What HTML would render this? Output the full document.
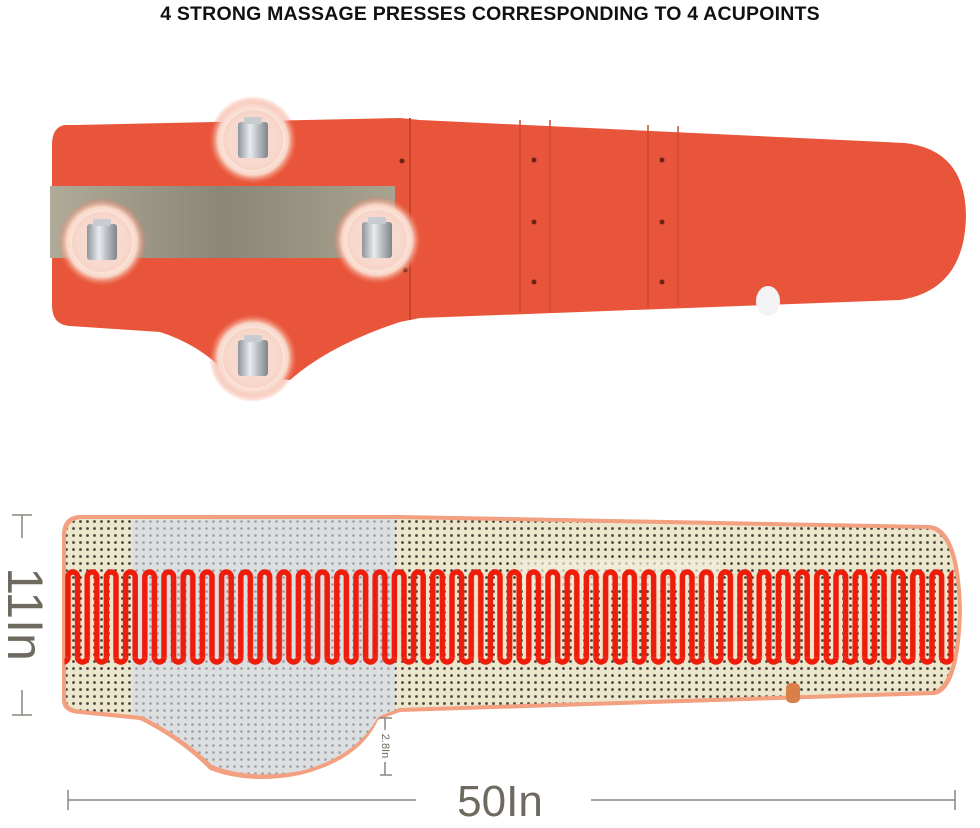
<!DOCTYPE html>
<html><head><meta charset="utf-8"><style>
html,body{margin:0;padding:0;background:#fff;width:980px;height:828px;overflow:hidden}
.t{position:absolute;top:3px;left:0;width:980px;text-align:center;font:bold 19.5px "Liberation Sans",sans-serif;color:#111;letter-spacing:0.2px}
</style></head><body>
<div class="t">4 STRONG MASSAGE PRESSES CORRESPONDING TO 4 ACUPOINTS</div>
<svg width="980" height="828" style="position:absolute;left:0;top:0" xmlns="http://www.w3.org/2000/svg">
<defs>
<pattern id="dots" width="7" height="7" patternUnits="userSpaceOnUse"><circle cx="3.5" cy="3.5" r="1.4" fill="#2a2a22"/></pattern>
<pattern id="gdots" width="7" height="7" patternUnits="userSpaceOnUse"><circle cx="3.5" cy="3.5" r="1.3" fill="#9a9ea2"/></pattern>
<pattern id="serp" x="63.2" y="0" width="19.2" height="828" patternUnits="userSpaceOnUse">
<path d="M4.8 657.2 L4.8 576.8 A4.8 4.8 0 0 1 14.4 576.8 L14.4 657.2" fill="none" stroke="#ee1c0a" stroke-width="5.5"/>
<path d="M-4.8 657.2 A4.8 4.8 0 0 0 4.8 657.2 M14.4 657.2 A4.8 4.8 0 0 0 24 657.2" fill="none" stroke="#ee1c0a" stroke-width="5.5"/>
</pattern>
<radialGradient id="glow"><stop offset="0.55" stop-color="#fff4ee"/><stop offset="0.8" stop-color="#f8d6c8"/><stop offset="1" stop-color="#f07a5c" stop-opacity="0"/></radialGradient>
<linearGradient id="cyl" x1="0" x2="1"><stop offset="0" stop-color="#8e949c"/><stop offset="0.4" stop-color="#e8ecef"/><stop offset="1" stop-color="#7e848c"/></linearGradient>
<linearGradient id="band" x1="0" x2="1"><stop offset="0" stop-color="#b0aa98"/><stop offset="0.5" stop-color="#8c8676"/><stop offset="1" stop-color="#a8a290"/></linearGradient>
<g id="btn"><circle r="44" fill="url(#glow)"/><circle r="30" fill="#f4c7b8" opacity="0.6"/><rect x="-15" y="-18" width="30" height="36" rx="3" fill="url(#cyl)"/><rect x="-9" y="-23" width="18" height="7" rx="2" fill="#c8ccd0"/></g>
</defs>
<path d="M65 125 Q52 127 52 145 L52 305 Q52 325 70 326 L160 332 Q200 345 225 372 L290 380 Q330 345 400 322 L420 318 L900 300 Q965 290 966 215 Q965 150 905 143 L420 120 L400 118 L75 125 Z" fill="#e8553a"/>
<path d="M410 118 L410 320" stroke="#c8432c" stroke-width="2"/>
<path d="M520 120 L520 312 M550 120 L550 312 M648 125 L648 308 M678 126 L678 306" stroke="#d44a30" stroke-width="1.5"/>
<g fill="#6b2417"><circle cx="402" cy="161" r="2.5"/><circle cx="534" cy="160" r="2.5"/><circle cx="534" cy="222" r="2.5"/><circle cx="534" cy="282" r="2.5"/><circle cx="662" cy="160" r="2.5"/><circle cx="662" cy="222" r="2.5"/><circle cx="662" cy="282" r="2.5"/><circle cx="405" cy="270" r="2.5"/></g>
<rect x="50" y="186" width="345" height="72" fill="url(#band)"/>
<ellipse cx="768" cy="301" rx="12" ry="15" fill="#f4f4f6"/>
<use href="#btn" x="253" y="140"/><use href="#btn" x="102" y="242"/><use href="#btn" x="377" y="240"/><use href="#btn" x="253" y="358"/>
<path d="M78 515 Q62 517 62 535 L62 700 Q62 713 80 714 L140 720 Q180 740 210 770 Q250 785 300 775 Q360 760 378 720 L400 712 L935 695 Q960 690 962 610 Q960 528 930 525 L400 515 Z" fill="#f2a080"/>
<path d="M80 519 Q66 521 66 537 L66 698 Q66 709 82 710 L142 716 Q182 736 212 765 Q250 780 300 771 Q356 757 375 717 L400 708 L932 691 Q956 686 958 610 Q956 532 928 529 L400 519 Z" fill="#ece6cc"/>
<path d="M80 519 Q66 521 66 537 L66 698 Q66 709 82 710 L142 716 Q182 736 212 765 Q250 780 300 771 Q356 757 375 717 L400 708 L932 691 Q956 686 958 610 Q956 532 928 529 L400 519 Z" fill="url(#dots)" opacity="0.85"/>
<path d="M132 520 L395 519 L395 710 L378 717 Q356 757 300 771 Q250 780 212 765 Q182 736 142 716 L132 715 Z" fill="#dcdee0"/>
<path d="M132 520 L395 519 L395 710 L378 717 Q356 757 300 771 Q250 780 212 765 Q182 736 142 716 L132 715 Z" fill="url(#gdots)"/>
<rect x="520" y="560" width="200" height="30" fill="#f2eedd" opacity="0.7"/>
<rect x="64.5" y="560" width="889" height="112" fill="url(#serp)"/>
<rect x="786" y="683" width="14" height="20" rx="5" fill="#d8804a"/>
<g stroke="#8a867e" stroke-width="1.5" fill="none">
<path d="M22 515 L22 715 M12 515 L32 515 M12 715 L32 715"/>
<path d="M68 800 L955 800 M68 790 L68 810 M955 790 L955 810"/>
<path d="M385 718 L385 775 M380 718 L392 718 M380 775 L392 775"/>
</g>
<rect x="2" y="538" width="42" height="152" fill="#fff"/>
<text transform="translate(8,614) rotate(90)" text-anchor="middle" font-family="Liberation Sans,sans-serif" font-size="50" fill="#6f6a60">11In</text>
<rect x="416" y="778" width="175" height="44" fill="#fff"/>
<text x="500" y="816" text-anchor="middle" font-family="Liberation Sans,sans-serif" font-size="44" fill="#6f6a60">50In</text>
<rect x="378" y="730" width="14" height="32" fill="#fff"/>
<text transform="translate(382,746) rotate(90)" text-anchor="middle" font-family="Liberation Sans,sans-serif" font-size="11" fill="#6f6a60">2.8In</text>
</svg>
</body></html>
